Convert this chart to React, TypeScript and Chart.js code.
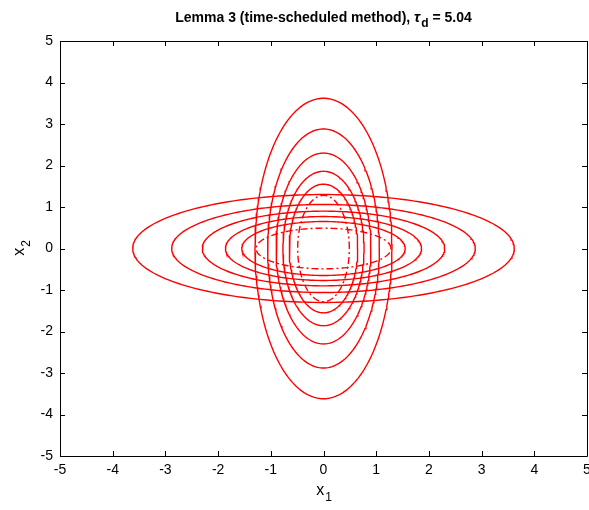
import React, { useEffect, useRef } from "react";
import { Chart, registerables } from "chart.js";

Chart.register(...registerables);

// Semi-axis lengths of the ellipse families
const longAxes = [3.62, 2.88, 2.3, 1.86, 1.55, 1.28];
const shortAxes = [1.3, 1.06, 0.9, 0.77, 0.65, 0.49];
const dashed = [false, false, false, false, false, true];
const tickValues = [-5, -4, -3, -2, -1, 0, 1, 2, 3, 4, 5];
const titleMain = "Lemma 3 (time-scheduled method), ";
const titleSym = "τ";
const titleSub = "d";
const titleTail = " = 5.04";

const FONT = "'Liberation Sans', Arial, Helvetica, sans-serif";

function ellipsePoints(rx: number, ry: number) {
  const pts: { x: number; y: number }[] = [];
  const n = 240;
  for (let i = 0; i <= n; i++) {
    const t = (i / n) * Math.PI * 2;
    pts.push({ x: rx * Math.cos(t), y: ry * Math.sin(t) });
  }
  return pts;
}

const framePlugin = {
  id: "frame",
  afterDraw(chart: any) {
    const { ctx, chartArea } = chart;
    const { left, right, top, bottom } = chartArea;
    const xs = chart.scales.x;
    const ys = chart.scales.y;
    ctx.save();
    ctx.strokeStyle = "#000";
    ctx.lineWidth = 1;
    ctx.beginPath();
    ctx.rect(Math.round(left) + 0.5, Math.round(top) + 0.5, Math.round(right - left), Math.round(bottom - top));
    ctx.stroke();
    const tl = 5;
    ctx.beginPath();
    for (const v of tickValues) {
      const px = Math.round(xs.getPixelForValue(v)) + 0.5;
      ctx.moveTo(px, bottom);
      ctx.lineTo(px, bottom - tl);
      ctx.moveTo(px, top);
      ctx.lineTo(px, top + tl);
      const py = Math.round(ys.getPixelForValue(v)) + 0.5;
      ctx.moveTo(left, py);
      ctx.lineTo(left + tl, py);
      ctx.moveTo(right, py);
      ctx.lineTo(right - tl, py);
    }
    ctx.stroke();

    // Title
    ctx.fillStyle = "#000";
    ctx.textBaseline = "alphabetic";
    ctx.textAlign = "left";
    const fMain = `bold 14px ${FONT}`;
    const fSym = `italic bold 15px ${FONT}`;
    const fSub = `bold 12px ${FONT}`;
    ctx.font = fMain;
    const w1 = ctx.measureText(titleMain).width;
    const w4 = ctx.measureText(titleTail).width;
    ctx.font = fSym;
    const w2 = ctx.measureText(titleSym).width;
    ctx.font = fSub;
    const w3 = ctx.measureText(titleSub).width;
    const total = w1 + w2 + w3 + 1 + w4;
    const cx = (left + right) / 2;
    let x = cx - total / 2;
    const base = 22;
    ctx.font = fMain;
    ctx.fillText(titleMain, x, base);
    x += w1;
    ctx.font = fSym;
    ctx.fillText(titleSym, x, base);
    x += w2 + 1;
    ctx.font = fSub;
    ctx.fillText(titleSub, x, base + 5);
    x += w3;
    ctx.font = fMain;
    ctx.fillText(titleTail, x, base);

    // Axis labels
    const fLab = `16px ${FONT}`;
    const fLabSub = `12px ${FONT}`;
    ctx.font = fLab;
    const wx = ctx.measureText("x").width;
    ctx.font = fLabSub;
    const ws = ctx.measureText("1").width;
    let lx = cx - (wx + ws) / 2;
    ctx.font = fLab;
    ctx.fillText("x", lx, 495);
    ctx.font = fLabSub;
    ctx.fillText("1", lx + wx + 1, 501);

    ctx.translate(24, (top + bottom) / 2);
    ctx.rotate(-Math.PI / 2);
    lx = -(wx + ws) / 2;
    ctx.font = fLab;
    ctx.fillText("x", lx, 0);
    ctx.font = fLabSub;
    ctx.fillText("2", lx + wx + 1, 6);
    ctx.restore();
  },
};

export default function App() {
  const ref = useRef<HTMLCanvasElement | null>(null);
  useEffect(() => {
    if (!ref.current) return;
    const datasets: any[] = [];
    longAxes.forEach((a, i) => {
      const b = shortAxes[i];
      const style = {
        borderColor: "#ff0000",
        borderWidth: 1.4,
        pointRadius: 0,
        showLine: true,
        fill: false,
        tension: 0,
        borderDash: dashed[i] ? [7, 3, 2, 3] : [],
      };
      datasets.push({ data: ellipsePoints(a, b), ...style });
      datasets.push({ data: ellipsePoints(b, a), ...style });
    });
    const chart = new Chart(ref.current, {
      type: "scatter",
      data: { datasets },
      options: {
        animation: false,
        responsive: false,
        events: [],
        layout: { padding: { top: 41, right: 2, left: 0, bottom: 0 } },
        plugins: { legend: { display: false }, tooltip: { enabled: false }, title: { display: false } },
        scales: {
          x: {
            type: "linear",
            min: -5,
            max: 5,
            afterFit: (s: any) => { s.height = 54; s.paddingLeft = 0; s.paddingRight = 0; },
            afterBuildTicks: (s: any) => { s.ticks = tickValues.map((v) => ({ value: v })); },
            grid: { display: false, drawTicks: false },
            border: { display: false },
            ticks: { color: "#000", font: { family: FONT, size: 14 }, padding: 6, maxRotation: 0, callback: (v: any) => String(v) },
          },
          y: {
            type: "linear",
            min: -5,
            max: 5,
            afterFit: (s: any) => { s.width = 60; s.paddingTop = 0; s.paddingBottom = 0; },
            afterBuildTicks: (s: any) => { s.ticks = tickValues.map((v) => ({ value: v })); },
            grid: { display: false, drawTicks: false },
            border: { display: false },
            ticks: { color: "#000", font: { family: FONT, size: 14 }, padding: 7, callback: (v: any) => String(v) },
          },
        },
      },
      plugins: [framePlugin],
    });
    return () => chart.destroy();
  }, []);
  return (
    <div style={{ position: "fixed", left: 0, top: 0, width: 589, height: 510, background: "#fff" }}>
      <canvas ref={ref} width={589} height={510} style={{ width: 589, height: 510, display: "block" }} />
    </div>
  );
}
